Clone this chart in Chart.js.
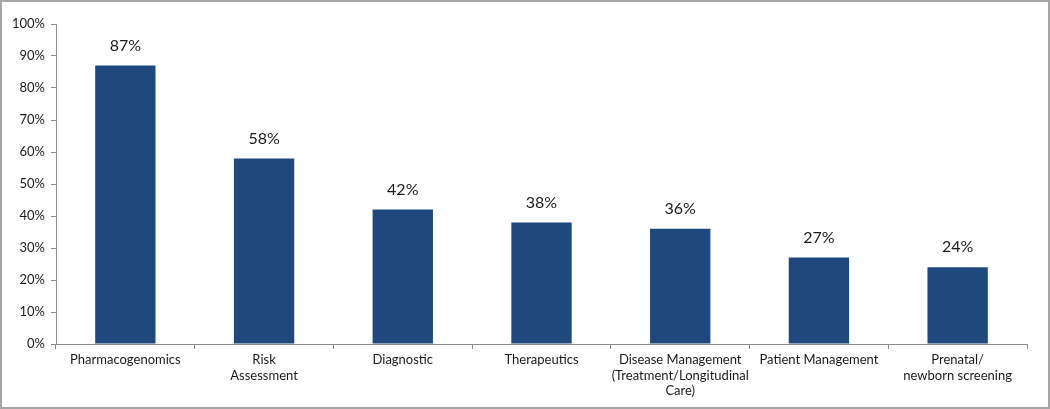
<!DOCTYPE html>
<html><head><meta charset="utf-8">
<script src="https://cdn.jsdelivr.net/npm/chart.js@4"></script>
<style>html,body{margin:0;padding:0;background:#fff}#wrap{position:relative;width:1050px;height:409px}</style>
</head><body><div id="wrap"><canvas id="c" width="1050" height="409"></canvas></div>
<script>
const categories = [
  "Pharmacogenomics",
  ["Risk", "Assessment"],
  "Diagnostic",
  "Therapeutics",
  ["Disease Management", "(Treatment/Longitudinal", "Care)"],
  "Patient Management",
  ["Prenatal/", "newborn screening"]
];
const values = [87, 58, 42, 38, 36, 27, 24];
const yTicks = [0, 10, 20, 30, 40, 50, 60, 70, 80, 90, 100];

const axisColor = '#8c8c8c';
const frame = {
  id: 'frame',
  afterDraw(chart) {
    const ctx = chart.ctx;
    ctx.save();
    ctx.strokeStyle = '#a6a6a6';
    ctx.lineWidth = 2;
    ctx.strokeRect(1, 1, chart.width - 2, chart.height - 2);
    ctx.restore();
  }
};
const labels = {
  id: 'labels',
  afterDatasetsDraw(chart) {
    const ctx = chart.ctx;
    const meta = chart.getDatasetMeta(0);
    ctx.save();
    ctx.font = '16px Lato, "Open Sans", sans-serif';
    ctx.fillStyle = '#1a1a1a';
    ctx.textAlign = 'center';
    ctx.textBaseline = 'bottom';
    meta.data.forEach((bar, i) => {
      ctx.fillText(values[i] + '%', bar.x, bar.y - 12);
    });
    ctx.restore();
  }
};
new Chart(document.getElementById('c'), {
  type: 'bar',
  data: { labels: categories, datasets: [{ data: values, backgroundColor: '#1F497D', categoryPercentage: 1, barPercentage: 0.435 }] },
  options: {
    responsive: false, animation: false,
    layout: { padding: { left: 0, top: 24, right: 23, bottom: 0 } },
    plugins: { legend: { display: false }, tooltip: { enabled: false } },
    scales: {
      x: {
        grid: { display: true, drawOnChartArea: false, drawTicks: true, tickLength: 5, color: axisColor, offset: true },
        border: { color: axisColor, width: 1 },
        ticks: { color: '#1a1a1a', font: { family: 'Lato, "Open Sans", sans-serif', size: 13 }, padding: 3, maxRotation: 0, autoSkip: false },
        afterFit(s) { s.height = 65; }
      },
      y: {
        min: 0, max: 100,
        afterBuildTicks(s) { s.ticks = yTicks.map(v => ({ value: v })); },
        grid: { display: true, drawOnChartArea: false, drawTicks: true, tickLength: 5, color: axisColor },
        border: { color: axisColor, width: 1 },
        ticks: { color: '#1a1a1a', font: { family: 'Lato, "Open Sans", sans-serif', size: 13 }, padding: 6, callback: v => v + '%' },
        afterFit(s) { s.width = 56; }
      }
    }
  },
  plugins: [frame, labels]
});
</script></body></html>
